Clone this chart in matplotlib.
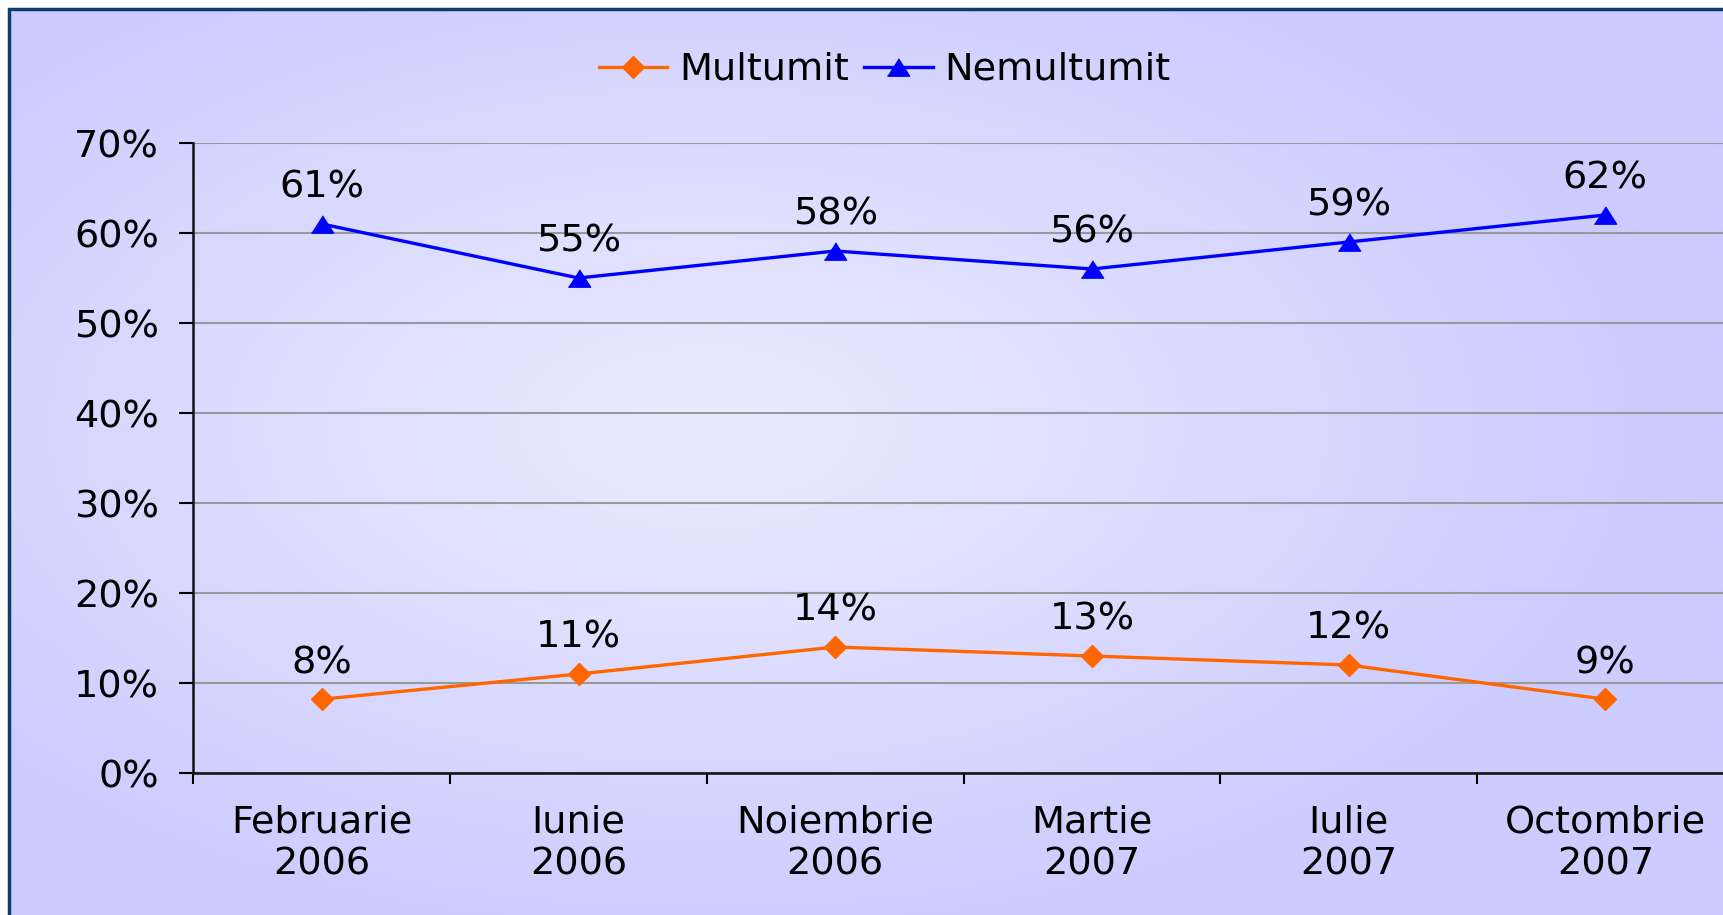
import numpy as np
import matplotlib
matplotlib.use("Agg")
import matplotlib.pyplot as plt
from matplotlib.patches import Rectangle

plt.rcParams['font.family'] = ['DejaVu Sans']

categories = ["Februarie\n2006", "Iunie\n2006", "Noiembrie\n2006",
              "Martie\n2007", "Iulie\n2007", "Octombrie\n2007"]
multumit = [8.2, 11, 14, 13, 12, 8.2]
multumit_labels = ["8%", "11%", "14%", "13%", "12%", "9%"]
nemultumit = [61, 55, 58, 56, 59, 62]
nemultumit_labels = ["61%", "55%", "58%", "56%", "59%", "62%"]
y_ticks = [0, 10, 20, 30, 40, 50, 60, 70]

FS = 27.5
W, H = 1724, 915
fig = plt.figure(figsize=(W / 100, H / 100), dpi=100, facecolor="white")

# radial background gradient inside the frame
x0, y_top = 9.5 / W, 1 - 9.5 / H
bg = fig.add_axes([x0, 0, 1 - x0, y_top], zorder=-10)
yy, xx = np.mgrid[0:H, 0:W]
cx, cy = 700, 420
r = np.sqrt(((xx - cx) / 950) ** 2 + ((yy - cy) / 520) ** 2)
t = np.clip(r, 0, 1) ** 1.1
edge = np.array([204, 204, 255]) / 255
center = np.array([234, 234, 255]) / 255
img = center[None, None, :] * (1 - t[..., None]) + edge[None, None, :] * t[..., None]
bg.imshow(img, aspect="auto", extent=[0, 1, 0, 1], origin="upper")
bg.set_axis_off()
fig.patches.append(Rectangle((x0, -0.1), 1.2, y_top + 0.1, transform=fig.transFigure,
                             fill=False, edgecolor="#0B3D73", linewidth=2.5, zorder=-5))

ax_left = 193.5 / W
ax_bottom = 1 - 773 / H
ax_top = 1 - 143 / H
ax_width = 6 * 256.7 / W
ax = fig.add_axes([ax_left, ax_bottom, ax_width, ax_top - ax_bottom])
ax.patch.set_alpha(0)

x = np.arange(len(categories))
ax.plot(x, multumit, color="#FF6600", linewidth=2.4, marker="D", markersize=11.5,
        label="Multumit", clip_on=False, zorder=3)
ax.plot(x, nemultumit, color="#0000FF", linewidth=2.4,
        marker=[(-1, -0.78), (1, -0.78), (0, 0.78)], markersize=16,
        label="Nemultumit", clip_on=False, zorder=3)

for xi, v, s in zip(x, multumit, multumit_labels):
    ax.annotate(s, (xi, v), xytext=(0, 26), textcoords="offset points",
                ha="center", va="center", fontsize=FS)
for xi, v, s in zip(x, nemultumit, nemultumit_labels):
    ax.annotate(s, (xi, v), xytext=(0, 26), textcoords="offset points",
                ha="center", va="center", fontsize=FS)

ax.set_xlim(-0.5, len(categories) - 0.5)
ax.set_ylim(0, 70)
ax.set_yticks(y_ticks)
ax.set_yticklabels([f"{v}%" for v in y_ticks], fontsize=FS)
ax.set_xticks(x)
ax.set_xticklabels(categories, fontsize=FS, linespacing=1.2)
ax.set_xticks(np.arange(len(categories)) - 0.5, minor=True)
ax.tick_params(axis="x", which="major", length=0, pad=23)
ax.tick_params(axis="x", which="minor", length=8, width=1.5, direction="out")
ax.tick_params(axis="y", length=10, width=1.5, direction="out", pad=15)
ax.grid(axis="y", color="#999999", linewidth=1.5)
ax.set_axisbelow(True)
for side in ["top", "right"]:
    ax.spines[side].set_visible(False)
for side in ["left", "bottom"]:
    ax.spines[side].set_linewidth(1.8)
    ax.spines[side].set_color("#111111")

handles, labels = ax.get_legend_handles_labels()
fig.legend(handles, labels, loc="center", bbox_to_anchor=(0.513, 1 - 70 / H),
           ncol=2, frameon=False, fontsize=FS, handlelength=1.8,
           handletextpad=0.3, columnspacing=0.4)

fig.savefig("out.png", dpi=100)
